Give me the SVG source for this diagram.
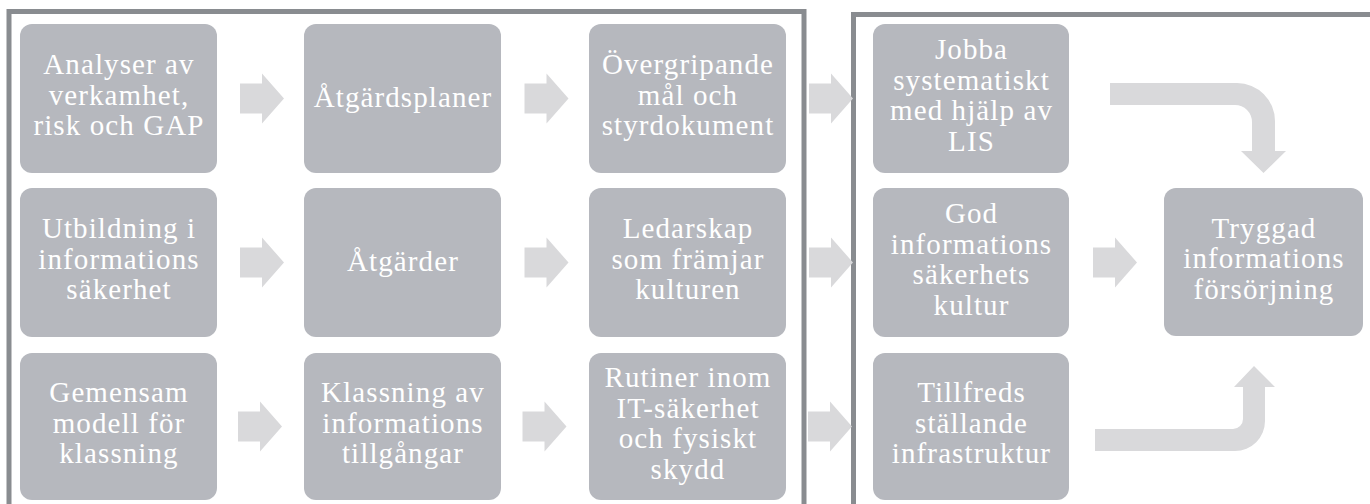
<svg xmlns="http://www.w3.org/2000/svg" width="1370" height="504" viewBox="0 0 1370 504">
<style>
.frame{fill:none;stroke:#898c90;stroke-width:5}
.box{fill:#b6b8be}
.arr{fill:#d9d9db}
.t{font-family:"Liberation Serif","Times New Roman",serif;font-size:29px;fill:#ffffff;text-anchor:middle;letter-spacing:1.1px}
</style>
<defs>
<path id="ra" d="M0,-15 H22 V-25 L44,0 L22,25 V15 H0 Z"/>
</defs>
<rect width="1370" height="504" fill="#ffffff"/>
<g id="frames">
<rect class="frame" x="9" y="11.5" width="795" height="520"/>
<rect class="frame" x="853.5" y="14.5" width="540" height="520"/>
</g>
<g id="connectors">
<use href="#ra" class="arr" x="240" y="98.5"/>
<use href="#ra" class="arr" x="524.5" y="98.5"/>
<use href="#ra" class="arr" x="809" y="98.5"/>
<use href="#ra" class="arr" x="240" y="262.5"/>
<use href="#ra" class="arr" x="524.5" y="262.5"/>
<use href="#ra" class="arr" x="809" y="262.5"/>
<use href="#ra" class="arr" x="1093" y="262.5"/>
<use href="#ra" class="arr" x="238" y="426.5"/>
<use href="#ra" class="arr" x="522.5" y="426.5"/>
<use href="#ra" class="arr" x="808" y="426.5"/>
<path class="arr" d="M1110,83 H1237 A38,38 0 0 1 1275,121 V151 H1286 L1263.5,173 L1241,151 H1252 V122 A17,17 0 0 0 1235,105 H1110 Z"/>
<path class="arr" d="M1095,429 H1233 A10,10 0 0 0 1243,419 V387 H1234 L1254,366 L1275,387 H1265 V421 A30,30 0 0 1 1235,451 H1095 Z"/>
</g>
<g id="n1"><rect class="box" x="20" y="24" width="197" height="149" rx="12"/>
<text class="t"><tspan x="119" y="74">Analyser av</tspan><tspan x="119" y="104.5">verkamhet,</tspan><tspan x="119" y="135">risk och GAP</tspan></text></g>
<g id="n2"><rect class="box" x="304" y="24" width="197" height="149" rx="12"/>
<text class="t"><tspan x="403" y="107">Åtgärdsplaner</tspan></text></g>
<g id="n3"><rect class="box" x="589" y="24" width="197" height="149" rx="12"/>
<text class="t"><tspan x="688" y="74">Övergripande</tspan><tspan x="688" y="104.5">mål och</tspan><tspan x="688" y="135">styrdokument</tspan></text></g>
<g id="n4"><rect class="box" x="873" y="24" width="196" height="149" rx="12"/>
<text class="t"><tspan x="971.5" y="59">Jobba</tspan><tspan x="971.5" y="89.5">systematiskt</tspan><tspan x="971.5" y="120">med hjälp av</tspan><tspan x="971.5" y="150.5">LIS</tspan></text></g>
<g id="n5"><rect class="box" x="20" y="188" width="197" height="149" rx="12"/>
<text class="t"><tspan x="119" y="238">Utbildning i</tspan><tspan x="119" y="268.5">informations</tspan><tspan x="119" y="299">säkerhet</tspan></text></g>
<g id="n6"><rect class="box" x="304" y="188" width="197" height="149" rx="12"/>
<text class="t"><tspan x="403" y="271">Åtgärder</tspan></text></g>
<g id="n7"><rect class="box" x="589" y="188" width="197" height="149" rx="12"/>
<text class="t"><tspan x="688" y="238">Ledarskap</tspan><tspan x="688" y="268.5">som främjar</tspan><tspan x="688" y="299">kulturen</tspan></text></g>
<g id="n8"><rect class="box" x="873" y="188" width="196" height="149" rx="12"/>
<text class="t"><tspan x="971.5" y="223">God</tspan><tspan x="971.5" y="253.5">informations</tspan><tspan x="971.5" y="284">säkerhets</tspan><tspan x="971.5" y="314.5">kultur</tspan></text></g>
<g id="n9"><rect class="box" x="1164" y="188" width="199" height="148" rx="12"/>
<text class="t"><tspan x="1264" y="237.5">Tryggad</tspan><tspan x="1264" y="268">informations</tspan><tspan x="1264" y="298.5">försörjning</tspan></text></g>
<g id="n10"><rect class="box" x="20" y="353" width="197" height="147" rx="12"/>
<text class="t"><tspan x="119" y="402">Gemensam</tspan><tspan x="119" y="432.5">modell för</tspan><tspan x="119" y="463">klassning</tspan></text></g>
<g id="n11"><rect class="box" x="304" y="353" width="197" height="147" rx="12"/>
<text class="t"><tspan x="403" y="402">Klassning av</tspan><tspan x="403" y="432.5">informations</tspan><tspan x="403" y="463">tillgångar</tspan></text></g>
<g id="n12"><rect class="box" x="589" y="353" width="197" height="147" rx="12"/>
<text class="t"><tspan x="688" y="387">Rutiner inom</tspan><tspan x="688" y="417.5">IT-säkerhet</tspan><tspan x="688" y="448">och fysiskt</tspan><tspan x="688" y="478.5">skydd</tspan></text></g>
<g id="n13"><rect class="box" x="873" y="353" width="196" height="147" rx="12"/>
<text class="t"><tspan x="971.5" y="402">Tillfreds</tspan><tspan x="971.5" y="432.5">ställande</tspan><tspan x="971.5" y="463">infrastruktur</tspan></text></g>
</svg>
